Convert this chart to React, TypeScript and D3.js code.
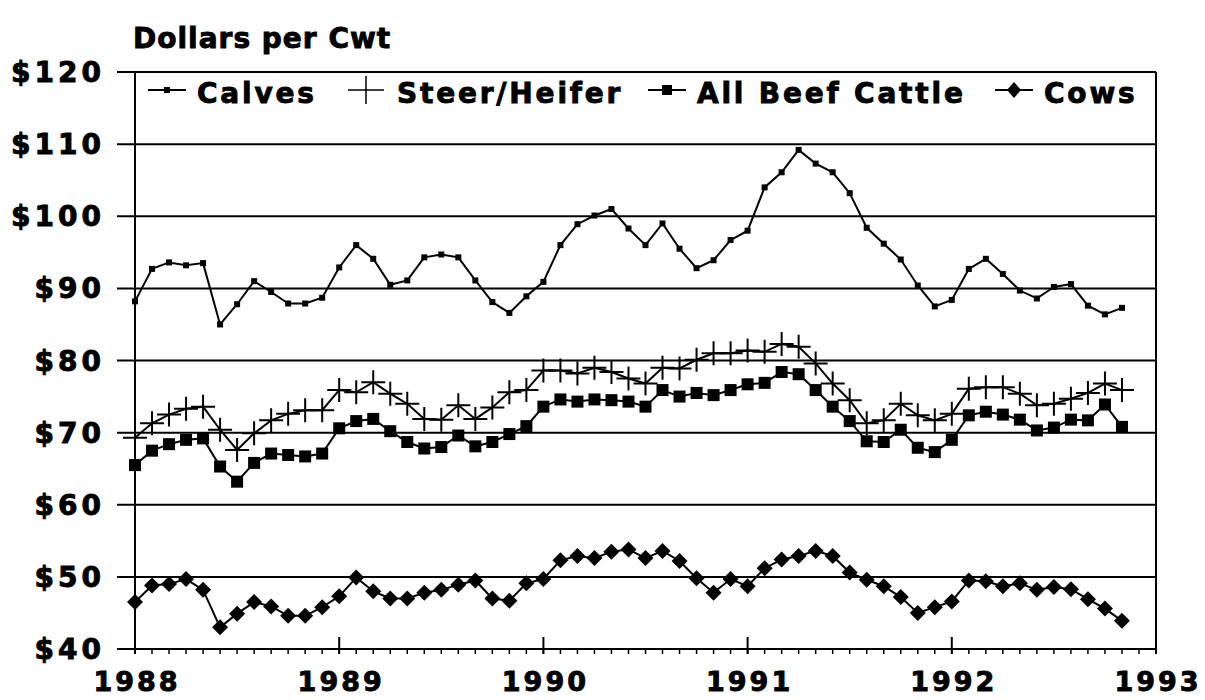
import React, { useEffect, useRef } from 'react'
import * as d3 from 'd3'

// monthly prices, Jan 1988 .. Nov 1992
const startYear = 1988
const yearTicks = [1988, 1989, 1990, 1991, 1992, 1993]
const yTicks = [40, 50, 60, 70, 80, 90, 100, 110, 120]

const calves = [88.2, 92.7, 93.6, 93.2, 93.5, 85.0, 87.8, 91.0, 89.5, 87.9, 87.9, 88.7, 92.9, 96.0, 94.1, 90.5, 91.1, 94.3, 94.7, 94.3, 91.1, 88.1, 86.6, 88.9, 90.9, 96.0, 98.9, 100.1, 101.0, 98.3, 96.0, 99.0, 95.5, 92.8, 93.9, 96.7, 98.0, 104.0, 106.1, 109.2, 107.3, 106.1, 103.2, 98.4, 96.2, 94.0, 90.4, 87.5, 88.4, 92.7, 94.1, 92.0, 89.7, 88.6, 90.2, 90.6, 87.6, 86.4, 87.3]
const steer = [69.3, 71.3, 72.5, 73.3, 73.6, 70.4, 67.6, 69.9, 71.7, 72.6, 73.1, 73.1, 75.9, 75.6, 77.0, 75.4, 74.0, 71.9, 71.8, 73.8, 71.9, 73.5, 75.6, 75.9, 78.6, 78.6, 78.2, 79.0, 78.4, 77.5, 76.8, 79.0, 78.9, 80.1, 81.0, 81.0, 81.4, 81.2, 82.3, 81.9, 79.6, 76.8, 74.5, 71.3, 71.7, 74.0, 72.4, 71.7, 72.6, 76.1, 76.3, 76.3, 75.4, 73.8, 74.0, 74.7, 75.5, 76.8, 75.9]
const beef = [65.5, 67.5, 68.4, 69.0, 69.2, 65.3, 63.2, 65.8, 67.1, 66.9, 66.7, 67.1, 70.6, 71.6, 71.9, 70.2, 68.7, 67.8, 68.0, 69.6, 68.1, 68.7, 69.8, 70.9, 73.6, 74.6, 74.3, 74.6, 74.5, 74.3, 73.6, 75.9, 75.0, 75.5, 75.2, 75.9, 76.7, 76.9, 78.4, 78.1, 75.9, 73.6, 71.6, 68.8, 68.7, 70.4, 67.9, 67.3, 69.0, 72.4, 72.9, 72.5, 71.8, 70.3, 70.7, 71.8, 71.7, 73.9, 70.8]
const cows = [46.5, 48.8, 49.0, 49.7, 48.2, 43.0, 44.9, 46.5, 45.9, 44.6, 44.6, 45.8, 47.3, 49.9, 48.0, 47.0, 47.0, 47.8, 48.2, 48.9, 49.5, 47.0, 46.7, 49.1, 49.7, 52.3, 52.9, 52.6, 53.5, 53.8, 52.6, 53.6, 52.2, 49.8, 47.8, 49.7, 48.7, 51.2, 52.4, 52.9, 53.6, 52.9, 50.6, 49.6, 48.7, 47.2, 45.0, 45.8, 46.6, 49.5, 49.4, 48.7, 49.1, 48.2, 48.6, 48.3, 46.9, 45.6, 43.9]

type Marker = 'dot' | 'cross' | 'square' | 'diamond'
const series: { name: string; values: number[]; marker: Marker }[] = [
  { name: 'Calves', values: calves, marker: 'dot' },
  { name: 'Steer/Heifer', values: steer, marker: 'cross' },
  { name: 'All Beef Cattle', values: beef, marker: 'square' },
  { name: 'Cows', values: cows, marker: 'diamond' },
]
const legendX = [148, 348, 648, 995]

const FONT = '"DejaVu Sans", sans-serif'

function drawMarker(g: d3.Selection<SVGGElement, unknown, null, undefined>, kind: Marker, x: number, y: number) {
  if (kind === 'dot') {
    g.append('rect').attr('x', x - 3).attr('y', y - 3).attr('width', 6).attr('height', 6).attr('fill', '#000')
  } else if (kind === 'square') {
    g.append('rect').attr('x', x - 6).attr('y', y - 6).attr('width', 12).attr('height', 12).attr('fill', '#000')
  } else if (kind === 'diamond') {
    g.append('path').attr('d', `M${x},${y - 8}L${x + 8},${y}L${x},${y + 8}L${x - 8},${y}Z`).attr('fill', '#000')
  } else {
    g.append('path').attr('d', `M${x - 12},${y}H${x + 12}M${x},${y - 12}V${y + 12}`)
      .attr('stroke', '#000').attr('stroke-width', 2).attr('fill', 'none')
  }
}

// heavy bold label look: bold face plus a thin outline
function heavy(t: d3.Selection<SVGTextElement, any, any, any>, size: number, spacing: number) {
  return t
    .attr('font-family', FONT).attr('font-weight', 'bold').attr('font-size', size)
    .attr('letter-spacing', spacing)
    .attr('fill', '#000').attr('stroke', '#000').attr('stroke-width', 0.9)
}

export default function App() {
  const svgRef = useRef<SVGSVGElement>(null)

  useEffect(() => {
    if (!svgRef.current) return
    const svg = d3.select(svgRef.current)
    svg.selectAll('*').remove()

    const left = 135, right = 1156, top = 72, bottom = 649

    const x = d3.scaleLinear().domain([0, 60]).range([left, right])
    const y = d3.scaleLinear().domain([40, 120]).range([bottom, top])

    svg.append('rect').attr('width', 1205).attr('height', 700).attr('fill', '#fff')

    // title
    heavy(svg.append('text').attr('x', 133).attr('y', 48), 28, 1)
      .text('Dollars per Cwt')

    const g = svg.append('g')

    // horizontal grid lines (they run out past the axis as tick marks)
    g.selectAll('line.grid').data(yTicks).enter().append('line')
      .attr('x1', 117).attr('x2', right)
      .attr('y1', d => y(d)).attr('y2', d => y(d))
      .attr('stroke', '#000').attr('stroke-width', 2)

    // y labels
    heavy(g.selectAll('text.ylab').data(yTicks).enter().append('text')
      .attr('x', 105).attr('y', d => y(d) + 10)
      .attr('text-anchor', 'end'), 28, 4)
      .text(d => `$${d}`)

    // left axis + right border
    g.append('line').attr('x1', left).attr('x2', left).attr('y1', top).attr('y2', bottom + 5)
      .attr('stroke', '#000').attr('stroke-width', 2)
    g.append('line').attr('x1', right).attr('x2', right).attr('y1', top).attr('y2', bottom + 5)
      .attr('stroke', '#000').attr('stroke-width', 2)

    // month minor ticks and year major ticks
    g.selectAll('line.minor').data(d3.range(0, 61)).enter().append('line')
      .attr('x1', d => x(d)).attr('x2', d => x(d))
      .attr('y1', bottom).attr('y2', bottom + 5)
      .attr('stroke', '#000').attr('stroke-width', 1.5)
    g.selectAll('line.major').data(yearTicks).enter().append('line')
      .attr('x1', d => x((d - startYear) * 12)).attr('x2', d => x((d - startYear) * 12))
      .attr('y1', bottom - 12).attr('y2', bottom + 5)
      .attr('stroke', '#000').attr('stroke-width', 2)

    heavy(g.selectAll('text.xlab').data(yearTicks).enter().append('text')
      .attr('x', d => x((d - startYear) * 12) + 2).attr('y', 691)
      .attr('text-anchor', 'middle'), 27, 3)
      .text(d => String(d))

    // series
    const line = d3.line<number>().x((_, i) => x(i)).y(d => y(d))
    series.forEach(s => {
      g.append('path').attr('d', line(s.values))
        .attr('fill', 'none').attr('stroke', '#000').attr('stroke-width', 2)
      const mg = g.append('g')
      s.values.forEach((v, i) => drawMarker(mg, s.marker, x(i), y(v)))
    })

    // legend
    const lg = svg.append('g')
    series.forEach((s, k) => {
      const lx = legendX[k]
      const ly = 90
      if (s.marker !== 'cross') {
        lg.append('line').attr('x1', lx).attr('x2', lx + 38).attr('y1', ly).attr('y2', ly)
          .attr('stroke', '#000').attr('stroke-width', 2)
      }
      if (s.marker === 'cross') {
        lg.append('path').attr('d', `M${lx},${ly}H${lx + 36}M${lx + 18},${ly - 14}V${ly + 14}`)
          .attr('stroke', '#000').attr('stroke-width', 1.5).attr('fill', 'none')
      } else if (s.marker === 'dot') {
        lg.append('rect').attr('x', lx + 16).attr('y', ly - 3).attr('width', 6).attr('height', 6)
      } else if (s.marker === 'square') {
        lg.append('rect').attr('x', lx + 14).attr('y', ly - 5).attr('width', 10).attr('height', 10)
      } else {
        lg.append('path').attr('d', `M${lx + 19},${ly - 8}L${lx + 26},${ly}L${lx + 19},${ly + 8}L${lx + 12},${ly}Z`)
      }
      heavy(lg.append('text').attr('x', lx + 49).attr('y', 103), 28, 2.8)
        .text(s.name)
    })
  }, [])

  return (
    <svg
      ref={svgRef}
      width={1205}
      height={700}
      style={{ position: 'absolute', left: 0, top: 0, display: 'block' }}
    />
  )
}
